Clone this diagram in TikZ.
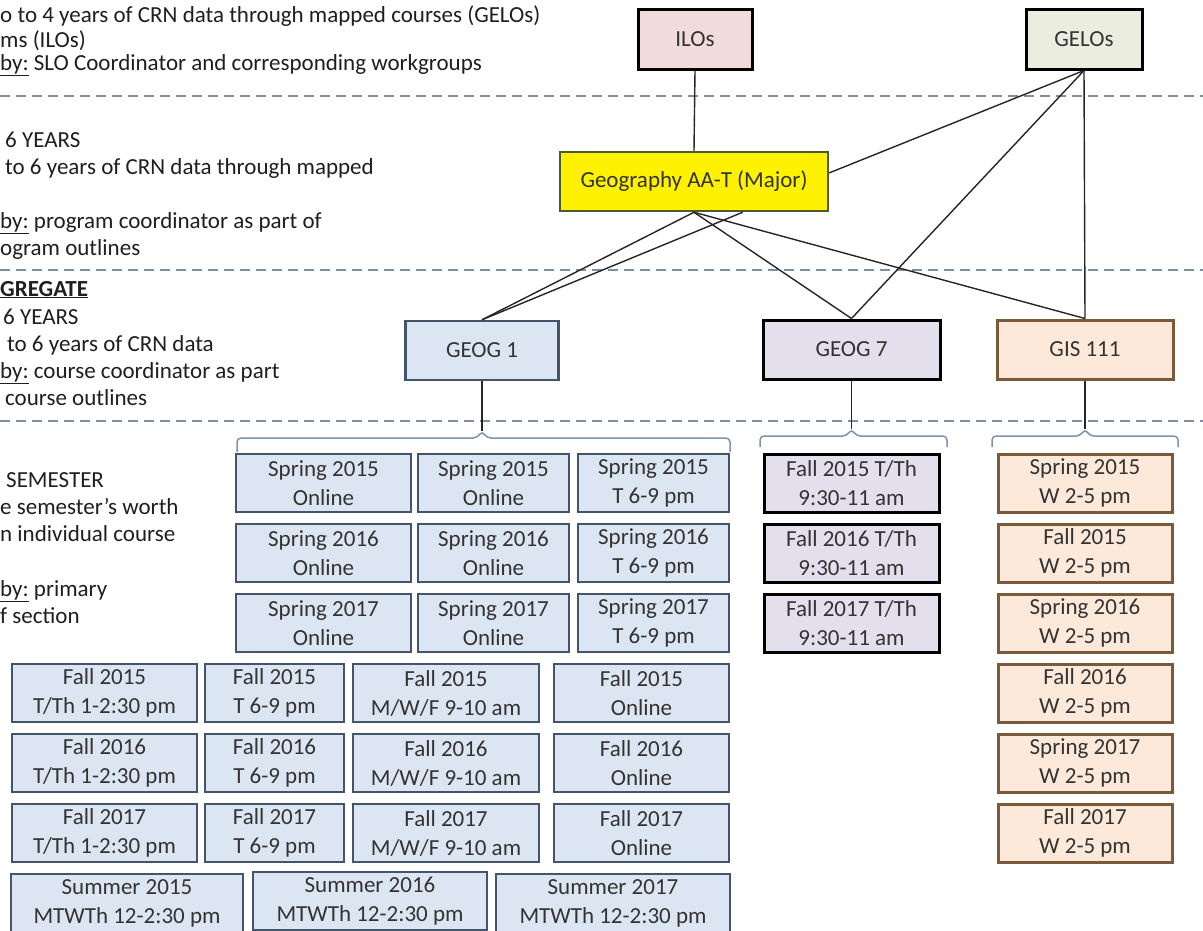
\documentclass[tikz,border=0pt]{standalone}
\usepackage{fontspec}
\setmainfont{Carlito}
\usetikzlibrary{calc}
\definecolor{bluefill}{HTML}{DCE6F2}
\definecolor{blueline}{HTML}{44546A}
\definecolor{lavfill}{HTML}{E4DFEC}
\definecolor{peachfill}{HTML}{FDE9D9}
\definecolor{brownline}{HTML}{7B5A3A}
\definecolor{pinkfill}{HTML}{F2DCDB}
\definecolor{greenfill}{HTML}{EBEEDF}
\definecolor{geoline}{HTML}{4E5B31}
\definecolor{txt}{HTML}{333333}
\definecolor{sepc}{HTML}{7D8FA8}
\definecolor{brkc}{HTML}{7F93AE}
\begin{document}
\begin{tikzpicture}[x=1pt,y=-1pt,
  box/.style={draw, line width=2.5pt, inner sep=0pt, align=center,
    font=\fontsize{23}{29}\selectfont, text=txt},
  sz/.style 2 args={minimum width=#1pt, minimum height=#2pt},
  bluebox/.style={box, fill=bluefill, draw=blueline},
  lavbox/.style={box, fill=lavfill, draw=black, line width=3pt},
  peachbox/.style={box, fill=peachfill, draw=brownline, line width=3pt},
  conn/.style={draw=black!85, line width=1.4pt},
  sep/.style={draw=sepc, line width=1.3pt, dash pattern=on 10pt off 6pt},
  brk/.style={draw=brkc, line width=1.5pt, rounded corners=4pt},
  lbl/.style={anchor=base west, inner sep=0pt, font=\fontsize{23}{27}\selectfont, text=black!88}]
\useasboundingbox (0,0) rectangle (1203,930);
\clip (0,0) rectangle (1203,930);
\fill[white] (0,0) rectangle (1203,930);

% separators
\draw[sep] (0,96) -- (1203,96);
\draw[sep] (0,270) -- (1203,270);
\draw[sep] (0,421) -- (1203,421);

% left column text
\node[lbl] (t1) at (0,22) {o to 4 years of CRN data through mapped courses (GELOs)};
\node[lbl] (t2) at (0,47) {ms (ILOs)};
\node[lbl] (t3) at (0,70) {\underline{by:} SLO Coordinator and corresponding workgroups};
\node[lbl] (t4) at (5,147) {6 YEARS};
\node[lbl] (t5) at (5,174) {to 6 years of CRN data through mapped};
\node[lbl] (t6) at (0,228) {\underline{by:} program coordinator as part of};
\node[lbl] (t7) at (0,255) {ogram outlines};
\node[lbl] (t8) at (0,296) {\textbf{\underline{GREGATE}}};
\node[lbl] (t9) at (3,324) {6 YEARS};
\node[lbl] (t10) at (7,351) {to 6 years of CRN data};
\node[lbl] (t11) at (0,378) {\underline{by:} course coordinator as part};
\node[lbl] (t12) at (5,405) {course outlines};
\node[lbl] (t13) at (6,487) {SEMESTER};
\node[lbl] (t14) at (0,514) {e semester’s worth};
\node[lbl] (t15) at (0,541) {n individual course};
\node[lbl] (t16) at (0,596) {\underline{by:} primary};
\node[lbl] (t17) at (0,623) {f section};

% top level
\node[box, fill=pinkfill, draw=black, line width=3pt, sz={114}{60}] (ilo) at (695,39) {ILOs};
\node[box, fill=greenfill, draw=black, line width=3pt, sz={116}{60}] (gelo) at (1084,39) {GELOs};
\node[box, fill=yellow, draw=geoline, sz={268}{59}] (geo) at (694,181.5) {Geography AA-T (Major)};

% courses
\node[bluebox, sz={153}{59}] (g1) at (482,350.5) {GEOG 1};
\node[lavbox, sz={177}{59}] (g7) at (851.5,349.5) {GEOG 7};
\node[peachbox, sz={176}{59}] (gis) at (1085,349.5) {GIS 111};

% connectors
\draw[conn] (ilo.south) -- (geo.north);
\draw[conn] (gelo.south) -- ($(geo.north east)!0.36!(geo.south east)$);
\draw[conn] (gelo.south) -- (g7.north);
\draw[conn] (gelo.south) -- (gis.north);
\draw[conn] (geo.south) -- (g1.north);
\draw[conn] ($(geo.south west)!0.68!(geo.south east)$) -- (g1.north);
\draw[conn] (geo.south) -- (g7.north);
\draw[conn] (geo.south) -- (gis.north);

% brackets
\coordinate (b1) at (482,431);
\coordinate (b7) at (851.5,429);
\coordinate (bg) at (1085,429);
\draw[brk] (237,452) -- (237,438) -- (477,438) -- (b1) -- (487,438) -- (730,438) -- (730,452);
\draw[brk] (760,447) -- (760,436) -- (846.5,436) -- (b7) -- (856.5,436) -- (947,436) -- (947,447);
\draw[brk] (992,447) -- (992,436) -- (1080,436) -- (bg) -- (1090,436) -- (1178,436) -- (1178,447);
\draw[conn] (g1.south) -- (b1);
\draw[conn] (g7.south) -- (b7);
\draw[conn] (gis.south) -- (bg);

% GEOG 1 spring sections
\node[bluebox, sz={175}{58}] (s15a) at (323.5,483) {Spring 2015\\Online};
\node[bluebox, sz={151}{58}] (s15b) at (493.5,483) {Spring 2015\\Online};
\node[bluebox, sz={151}{58}] (s15c) at (653.5,483) {Spring 2015\\T 6-9 pm};
\node[bluebox, sz={175}{58}] (s16a) at (323.5,553) {Spring 2016\\Online};
\node[bluebox, sz={151}{58}] (s16b) at (493.5,553) {Spring 2016\\Online};
\node[bluebox, sz={151}{58}] (s16c) at (653.5,553) {Spring 2016\\T 6-9 pm};
\node[bluebox, sz={175}{58}] (s17a) at (323.5,623) {Spring 2017\\Online};
\node[bluebox, sz={151}{58}] (s17b) at (493.5,623) {Spring 2017\\Online};
\node[bluebox, sz={151}{58}] (s17c) at (653.5,623) {Spring 2017\\T 6-9 pm};

% GEOG 1 fall sections
\node[bluebox, sz={185}{58}] (f15a) at (104.5,693) {Fall 2015\\T/Th 1-2:30 pm};
\node[bluebox, sz={139}{58}] (f15b) at (274.5,693) {Fall 2015\\T 6-9 pm};
\node[bluebox, sz={186}{58}] (f15c) at (446,693) {Fall 2015\\M/W/F 9-10 am};
\node[bluebox, sz={175}{58}] (f15d) at (641.5,693) {Fall 2015\\Online};
\node[bluebox, sz={185}{58}] (f16a) at (104.5,763) {Fall 2016\\T/Th 1-2:30 pm};
\node[bluebox, sz={139}{58}] (f16b) at (274.5,763) {Fall 2016\\T 6-9 pm};
\node[bluebox, sz={186}{58}] (f16c) at (446,763) {Fall 2016\\M/W/F 9-10 am};
\node[bluebox, sz={175}{58}] (f16d) at (641.5,763) {Fall 2016\\Online};
\node[bluebox, sz={185}{58}] (f17a) at (104.5,833) {Fall 2017\\T/Th 1-2:30 pm};
\node[bluebox, sz={139}{58}] (f17b) at (274.5,833) {Fall 2017\\T 6-9 pm};
\node[bluebox, sz={186}{58}] (f17c) at (446,833) {Fall 2017\\M/W/F 9-10 am};
\node[bluebox, sz={175}{58}] (f17d) at (641.5,833) {Fall 2017\\Online};
\node[bluebox, sz={232}{58}] (su15) at (127,903) {Summer 2015\\MTWTh 12-2:30 pm};
\node[bluebox, sz={234}{58}] (su16) at (370,901) {Summer 2016\\MTWTh 12-2:30 pm};
\node[bluebox, sz={234}{58}] (su17) at (613,903) {Summer 2017\\MTWTh 12-2:30 pm};

% GEOG 7 sections
\node[lavbox, sz={175}{58}] (l15) at (851.5,483) {Fall 2015 T/Th\\9:30-11 am};
\node[lavbox, sz={175}{58}] (l16) at (851.5,553) {Fall 2016 T/Th\\9:30-11 am};
\node[lavbox, sz={175}{58}] (l17) at (851.5,623) {Fall 2017 T/Th\\9:30-11 am};

% GIS 111 sections
\node[peachbox, sz={174}{58}] (p1) at (1085,483) {Spring 2015\\W 2-5 pm};
\node[peachbox, sz={174}{58}] (p2) at (1085,553) {Fall 2015\\W 2-5 pm};
\node[peachbox, sz={174}{58}] (p3) at (1085,623) {Spring 2016\\W 2-5 pm};
\node[peachbox, sz={174}{58}] (p4) at (1085,693) {Fall 2016\\W 2-5 pm};
\node[peachbox, sz={174}{58}] (p5) at (1085,763) {Spring 2017\\W 2-5 pm};
\node[peachbox, sz={174}{58}] (p6) at (1085,833) {Fall 2017\\W 2-5 pm};
\end{tikzpicture}
\end{document}
